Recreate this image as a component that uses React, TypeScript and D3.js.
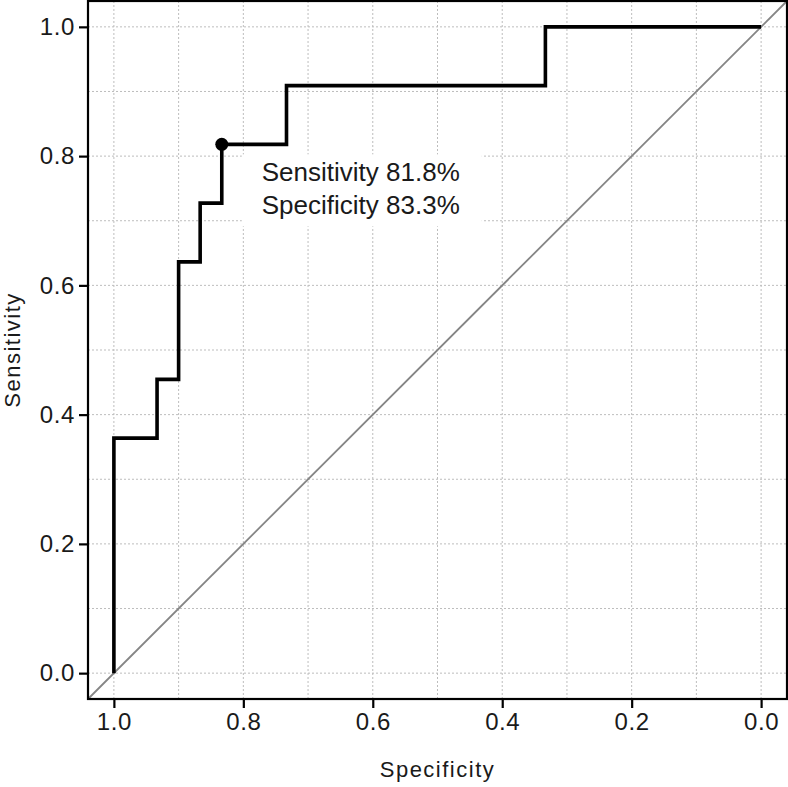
import React, { useEffect, useRef } from 'react';
import * as d3 from 'd3';

// ROC curve steps (specificity, sensitivity)
const specificity = [1.0, 1.0, 0.9333, 0.9333, 0.9, 0.9, 0.8667, 0.8667, 0.8333, 0.8333, 0.7333, 0.7333, 0.3333, 0.3333, 0.0];
const sensitivity = [0.0, 0.3636, 0.3636, 0.4545, 0.4545, 0.6364, 0.6364, 0.7273, 0.7273, 0.8182, 0.8182, 0.9091, 0.9091, 1.0, 1.0];

const bestSpec = 0.8333;
const bestSens = 0.8182;
const annotation = ['Sensitivity 81.8%', 'Specificity 83.3%'];

const tickValues = [0, 0.2, 0.4, 0.6, 0.8, 1.0];
const gridValues = [0, 0.1, 0.2, 0.3, 0.4, 0.5, 0.6, 0.7, 0.8, 0.9, 1.0];

const W = 788;
const H = 787;
const margin = { left: 88, right: 1, top: 1, bottom: 88 };

const App: React.FC = () => {
  const svgRef = useRef<SVGSVGElement>(null);

  useEffect(() => {
    if (!svgRef.current) return;
    const svg = d3.select(svgRef.current);
    svg.selectAll('*').remove();

    const x = d3.scaleLinear().domain([1.04, -0.04]).range([margin.left, W - margin.right]);
    const y = d3.scaleLinear().domain([-0.04, 1.04]).range([H - margin.bottom, margin.top]);

    const font = '"Liberation Sans", Arial, sans-serif';
    const ink = '#1a1a1a';

    // grid
    const grid = svg.append('g')
      .attr('stroke', '#bdbdbd')
      .attr('stroke-width', 1)
      .attr('stroke-dasharray', '2 2');
    grid.selectAll('line.v')
      .data(gridValues)
      .join('line')
      .attr('class', 'v')
      .attr('x1', d => x(d)).attr('x2', d => x(d))
      .attr('y1', y.range()[0]).attr('y2', y.range()[1]);
    grid.selectAll('line.h')
      .data(gridValues)
      .join('line')
      .attr('class', 'h')
      .attr('y1', d => y(d)).attr('y2', d => y(d))
      .attr('x1', x.range()[0]).attr('x2', x.range()[1]);

    // annotation background
    const px = x(bestSpec);
    const py = y(bestSens);
    svg.append('rect')
      .attr('x', px + 20)
      .attr('y', py + 10)
      .attr('width', 240)
      .attr('height', 72)
      .attr('fill', 'white');

    // diagonal
    svg.append('line')
      .attr('x1', x(1.04)).attr('y1', y(-0.04))
      .attr('x2', x(-0.04)).attr('y2', y(1.04))
      .attr('stroke', '#858585')
      .attr('stroke-width', 1.8);

    // ROC curve
    const pts = specificity.map((s, i) => [s, sensitivity[i]] as [number, number]);
    const line = d3.line<[number, number]>().x(d => x(d[0])).y(d => y(d[1]));
    svg.append('path')
      .attr('d', line(pts))
      .attr('fill', 'none')
      .attr('stroke', '#000')
      .attr('stroke-width', 3.6)
      .attr('stroke-linejoin', 'miter');

    svg.append('circle')
      .attr('cx', px).attr('cy', py).attr('r', 6.5)
      .attr('fill', '#000');

    svg.append('g')
      .selectAll('text')
      .data(annotation)
      .join('text')
      .attr('x', px + 40)
      .attr('y', (d, i) => py + 37 + i * 33)
      .attr('font-family', font)
      .attr('font-size', 26)
      .attr('fill', ink)
      .text(d => d);

    // frame
    svg.append('rect')
      .attr('x', margin.left)
      .attr('y', margin.top)
      .attr('width', W - margin.left - margin.right)
      .attr('height', H - margin.top - margin.bottom)
      .attr('fill', 'none')
      .attr('stroke', '#000')
      .attr('stroke-width', 2.2);

    // axes
    const xAxis = svg.append('g')
      .attr('transform', `translate(0,${H - margin.bottom})`)
      .call(d3.axisBottom(x).tickValues(tickValues).tickSize(9).tickPadding(5).tickFormat(d3.format('.1f')));
    const yAxis = svg.append('g')
      .attr('transform', `translate(${margin.left},0)`)
      .call(d3.axisLeft(y).tickValues(tickValues).tickSize(9).tickPadding(4).tickFormat(d3.format('.1f')));
    [xAxis, yAxis].forEach(a => {
      a.select('.domain').remove();
      a.selectAll('line').attr('stroke', '#000').attr('stroke-width', 2.2);
      a.selectAll('text')
        .attr('font-family', font)
        .attr('font-size', 24)
        .attr('letter-spacing', 0.6)
        .attr('fill', ink);
    });

    // axis titles
    svg.append('text')
      .attr('x', (x.range()[0] + x.range()[1]) / 2)
      .attr('y', 777)
      .attr('text-anchor', 'middle')
      .attr('font-family', font)
      .attr('font-size', 22)
      .attr('letter-spacing', 1.5)
      .attr('fill', ink)
      .text('Specificity');

    svg.append('text')
      .attr('transform', `translate(20,${(y.range()[0] + y.range()[1]) / 2}) rotate(-90)`)
      .attr('text-anchor', 'middle')
      .attr('font-family', font)
      .attr('font-size', 22)
      .attr('letter-spacing', 1.5)
      .attr('fill', ink)
      .text('Sensitivity');
  }, []);

  return (
    <svg
      ref={svgRef}
      width={W}
      height={H}
      style={{ position: 'absolute', left: 0, top: 0, background: 'white' }}
    />
  );
};

export default App;
